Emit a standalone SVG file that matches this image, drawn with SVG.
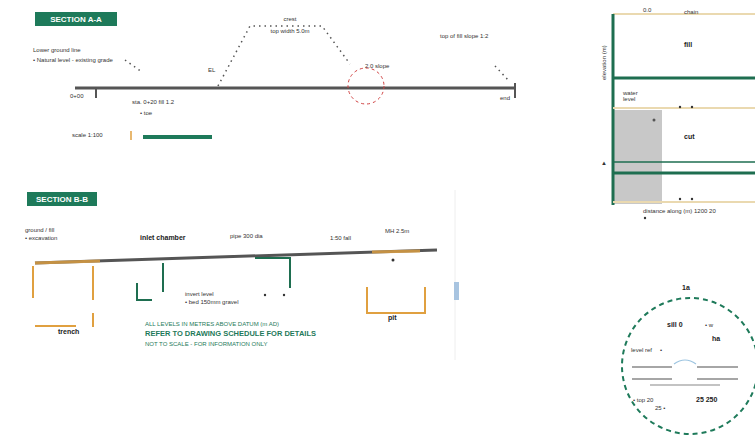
<svg xmlns="http://www.w3.org/2000/svg" width="755" height="441" viewBox="0 0 755 441">
<style>
.t{font-family:"Liberation Sans",Arial,sans-serif;font-size:6px;fill:#333}
.tb{font-family:"Liberation Sans",Arial,sans-serif;font-size:7px;font-weight:bold;fill:#222}
.lbl{font-family:"Liberation Sans",Arial,sans-serif;font-size:8px;font-weight:bold;fill:#fff}
.g{font-family:"Liberation Sans",Arial,sans-serif;font-size:6px;fill:#1e7a5a}
.gb{font-family:"Liberation Sans",Arial,sans-serif;font-size:7.5px;font-weight:bold;fill:#1e7a5a}
.main{stroke:#555;stroke-width:3;fill:none}
.dot{stroke:#555;stroke-width:1.5;stroke-dasharray:1.5 4;fill:none}
.red{stroke:#d04040;stroke-width:1;stroke-dasharray:3 3;fill:none}
.grn{stroke:#1e6e50;fill:none}
.org{stroke:#e0a040;fill:none}
.bei{stroke:#ead9b0;fill:none}
</style>
<rect width="755" height="441" fill="#fff"/>

<g id="label-a">
<rect x="35" y="12" width="82" height="14" fill="#1e7a5a"/>
<text class="lbl" x="76" y="22" text-anchor="middle">SECTION A-A</text>
</g>

<g id="section-a">
<text class="t" x="33" y="52">Lower ground line</text>
<text class="t" x="33" y="62">• Natural level - existing grade</text>
<line class="main" x1="75" y1="88" x2="515" y2="88"/>
<line x1="515" y1="83" x2="515" y2="98" stroke="#555" stroke-width="2"/>
<line x1="96" y1="88" x2="96" y2="98" stroke="#555" stroke-width="2"/>
<polyline class="dot" points="125,60 142,72"/>
<polyline class="dot" points="218,86 250,26 322,26 350,64"/>
<polyline class="dot" points="495,66 510,82"/>
<text class="t" x="290" y="21" text-anchor="middle">crest</text>
<text class="t" x="290" y="33" text-anchor="middle">top width 5.0m</text>
<text class="t" x="440" y="38">top of fill slope 1:2</text>
<text class="t" x="208" y="72">EL</text>
<text class="t" x="365" y="68">2.0 slope</text>
<text class="t" x="70" y="98">0+00</text>
<text class="t" x="132" y="104">sta. 0+20  fill 1.2</text>
<text class="t" x="140" y="115">• toe</text>
<text class="t" x="500" y="100">end</text>
<circle class="red" cx="366" cy="86" r="18"/>
<text class="t" x="72" y="137">scale 1:100</text>
<line x1="131" y1="131" x2="131" y2="140" stroke="#e0a040" stroke-width="1.5"/>
<line x1="143" y1="137" x2="212" y2="137" stroke="#1e7a5a" stroke-width="4"/>
</g>

<g id="label-b">
<rect x="27" y="192" width="70" height="14" fill="#1e7a5a"/>
<text class="lbl" x="62" y="202" text-anchor="middle">SECTION B-B</text>
</g>

<g id="section-b">
<text class="t" x="25" y="232">ground / fill</text>
<text class="t" x="25" y="240">• excavation</text>
<line class="main" x1="35" y1="263" x2="437" y2="250" stroke-width="2.5"/>
<line x1="35" y1="263" x2="100" y2="261" stroke="#e0a040" stroke-width="3" opacity="0.8"/>
<line x1="372" y1="252" x2="420" y2="251" stroke="#e0a040" stroke-width="3" opacity="0.8"/>
<polyline class="org" stroke-width="2" points="33,266 33,298"/>
<polyline class="org" stroke-width="2" points="93,266 93,300"/>
<polyline class="org" stroke-width="2" points="93,313 93,327"/>
<polyline class="org" stroke-width="2" points="35,326 76,326"/>
<text class="tb" x="58" y="334">trench</text>
<polyline class="grn" stroke-width="2" points="137,283 137,300 152,300"/>
<polyline class="grn" stroke-width="2" points="163,263 163,292"/>
<polyline class="grn" stroke-width="2" points="255,258 290,258 290,288"/>
<circle cx="265" cy="295" r="1.2" fill="#333"/>
<circle cx="284" cy="295" r="1.2" fill="#333"/>
<polyline class="org" stroke-width="2" points="367,287 367,313 425,313 425,287"/>
<text class="tb" x="388" y="320">pit</text>
<circle cx="393" cy="260" r="1.5" fill="#333"/>
<text class="tb" x="140" y="240">inlet chamber</text>
<text class="t" x="230" y="238">pipe 300 dia</text>
<text class="t" x="330" y="240">1:50 fall</text>
<text class="t" x="385" y="233">MH 2.5m</text>
<text class="t" x="185" y="296">invert level</text>
<text class="t" x="185" y="304">• bed 150mm gravel</text>
<text class="g" x="145" y="326">ALL LEVELS IN METRES ABOVE DATUM (m AD)</text>
<text class="gb" x="145" y="336">REFER TO DRAWING SCHEDULE FOR DETAILS</text>
<text class="g" x="145" y="346">NOT TO SCALE - FOR INFORMATION ONLY</text>
<line x1="455" y1="190" x2="455" y2="360" stroke="#eee" stroke-width="1"/>
<rect x="454" y="282" width="5" height="18" fill="#a8c4e0"/>
</g>

<g id="profile">
<line class="bei" x1="613" y1="14" x2="755" y2="14" stroke-width="2"/>
<rect x="613" y="110" width="49" height="94" fill="#c8c8c8"/>
<line class="grn" x1="613" y1="14" x2="613" y2="205" stroke-width="3"/>
<line class="grn" x1="613" y1="78" x2="755" y2="78" stroke-width="3"/>
<line class="bei" x1="613" y1="108" x2="755" y2="108" stroke-width="2"/>
<line class="grn" x1="613" y1="162" x2="755" y2="162" stroke-width="1.5"/>
<line class="grn" x1="613" y1="173" x2="755" y2="173" stroke-width="3"/>
<line class="bei" x1="613" y1="202" x2="755" y2="202" stroke-width="2"/>
<text class="t" x="643" y="12">0.0</text>
<text class="t" x="684" y="14">chain</text>
<text class="t" x="606" y="80" transform="rotate(-90 606 80)">elevation (m)</text>
<text class="tb" x="684" y="47">fill</text>
<text class="tb" x="684" y="139">cut</text>
<text class="t" x="623" y="95">water</text>
<text class="t" x="623" y="101">level</text>
<circle cx="680" cy="107" r="1.2" fill="#333"/>
<circle cx="692" cy="107" r="1.2" fill="#333"/>
<circle cx="680" cy="199" r="1.2" fill="#333"/>
<circle cx="692" cy="199" r="1.2" fill="#333"/>
<circle cx="654" cy="120" r="1.5" fill="#555"/>
<text class="t" x="601" y="165">▲</text>
<text class="t" x="643" y="213">distance along (m)   1200 20</text>
<circle cx="645" cy="218" r="1.2" fill="#333"/>
</g>

<g id="detail">
<circle cx="690" cy="366" r="68" fill="none" stroke="#1e7a5a" stroke-width="2" stroke-dasharray="5 4"/>
<text class="tb" x="686" y="290" text-anchor="middle">1a</text>
<text class="tb" x="667" y="327">sill 0</text>
<text class="t" x="705" y="327">• w</text>
<text class="tb" x="712" y="341">ha</text>
<text class="t" x="631" y="352">level ref</text>
<text class="t" x="660" y="352">•</text>
<line x1="632" y1="367" x2="672" y2="367" stroke="#888" stroke-width="1.5"/>
<line x1="697" y1="367" x2="738" y2="367" stroke="#888" stroke-width="1.5"/>
<line x1="632" y1="379" x2="672" y2="379" stroke="#888" stroke-width="1.5"/>
<line x1="697" y1="379" x2="738" y2="379" stroke="#888" stroke-width="1.5"/>
<line x1="650" y1="385" x2="720" y2="385" stroke="#888" stroke-width="1.2"/>
<path d="M674,364 Q685,356 696,364" fill="none" stroke="#9cc4e0" stroke-width="1.2"/>
<text class="t" x="633" y="402">• top 20</text>
<text class="tb" x="696" y="402">25  250</text>
<text class="t" x="655" y="410">25 •</text>
</g>
</svg>
